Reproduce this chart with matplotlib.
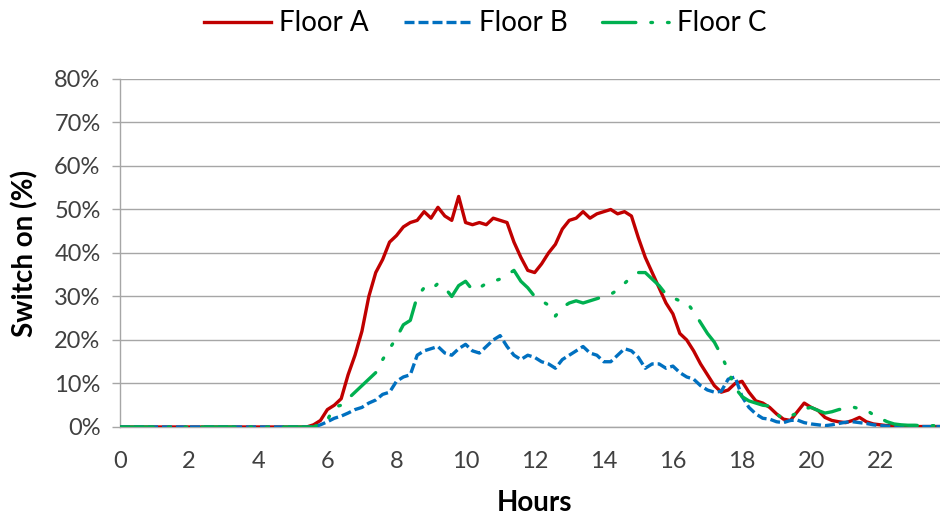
import numpy as np
import matplotlib
matplotlib.use("Agg")
import matplotlib.pyplot as plt

plt.rcParams['font.family'] = ['Lato', 'DejaVu Sans']

STEP = 0.2  # hours between samples

floor_a = [0]*28 + [
    0.5, 1.5, 4.0, 5.0, 6.5, 12, 16.5, 22, 30, 35.5,
    38.5, 42.5, 44, 46, 47, 47.5, 49.5, 48, 50.5, 48.5,
    47.5, 53, 47, 46.5, 47, 46.5, 48, 47.5, 47, 42.5,
    39, 36, 35.5, 37.5, 40, 42, 45.5, 47.5, 48, 49.5,
    48, 49, 49.5, 50, 49, 49.5, 48.5, 43.5, 39, 35.5,
    32, 28.5, 26, 21.5, 20, 17.5, 14.5, 12, 9.5, 8,
    8.5, 10, 10.5, 8, 6, 5.5, 4.5, 3, 1.8, 1.5,
    3.5, 5.5, 4.5, 3.8, 2.2, 1.5, 1.2, 1.0, 1.5, 2.2,
    1.2, 0.7, 0.5, 0.3, 0.3, 0.2, 0.2, 0.1, 0.1, 0.1,
    0.1, 0.1]

floor_b = [0]*29 + [
    0.5, 1.2, 2, 2.5, 3.2, 4, 4.5, 5.5, 6.2, 7.5,
    8, 10.5, 11.5, 12, 16.5, 17.5, 18, 18.5, 17, 16.5,
    18, 19, 17.5, 17, 18.5, 20, 21, 18.5, 16.5, 15.5,
    16.5, 16, 15, 14.5, 13.5, 15.5, 16.5, 17.5, 18.5, 17,
    16.5, 15, 15, 16.5, 18, 17.5, 16, 13.5, 14.5, 14.5,
    13.5, 14, 12.5, 11.5, 11, 9.5, 8.5, 8, 8.2, 11,
    11.5, 7, 4.5, 3, 2, 1.8, 1.2, 1.0, 1.5, 1.6,
    1.0, 0.7, 0.5, 0.3, 0.5, 0.8, 1.1, 1.2, 1.0, 0.8,
    0.5, 0.3, 0.2, 0.1, 0.1, 0.1, 0.1, 0.1, 0.1, 0.1,
    0.1]

floor_c = [0]*29 + [
    0.8, 1.6, 4.6, 5, 6.5, 8, 9.5, 11, 12.5, 15.5,
    18, 20.5, 23.5, 24.5, 30, 32, 31.5, 33, 32, 30,
    32.5, 33.5, 31.5, 32, 33, 33.5, 34, 35, 36, 33.5,
    32, 30, 29, 28, 25.5, 27.5, 28.5, 29, 28.5, 29,
    29.5, 30, 30.5, 31.5, 33, 34.5, 35.5, 35.5, 34, 32.5,
    30.5, 29.7, 29, 28.7, 26.5, 24, 21.5, 19.5, 16.5, 13,
    9, 7, 6, 5.5, 5, 4.8, 3, 1.8, 2.5, 3.2,
    4.2, 4.5, 3.8, 3.2, 3.5, 4.0, 4.3, 4.6, 4.2, 3.9,
    2.8, 2.0, 1.2, 0.7, 0.5, 0.4, 0.4, 0.3, 0.3, 0.3,
    0.3]

series_names = ["Floor A", "Floor B", "Floor C"]
y_ticks = [0, 10, 20, 30, 40, 50, 60, 70, 80]
x_ticks = [0, 2, 4, 6, 8, 10, 12, 14, 16, 18, 20, 22]

fig = plt.figure(figsize=(9.4, 5.19), dpi=100)
ax = fig.add_axes([0.1277, 0.1773, 0.8723, 0.6705])

def hrs(s):
    return np.arange(len(s)) * STEP

ax.plot(hrs(floor_a), floor_a, color="#C00000", lw=2.4, label=series_names[0],
        solid_joinstyle="round", zorder=3)
ax.plot(hrs(floor_b), floor_b, color="#0070C0", lw=2.4, label=series_names[1],
        dashes=(3.0, 1.2), zorder=4)
ax.plot(hrs(floor_c), floor_c, color="#00B050", lw=2.4, label=series_names[2],
        dashes=(10, 4.5, 0.5, 4.5, 0.5, 4.5), dash_capstyle="round", zorder=5)

ax.set_xlim(0, 23.73)
ax.set_ylim(0, 80)
ax.set_yticks(y_ticks)
ax.set_yticklabels([f"{v}%" for v in y_ticks])
ax.set_xticks(x_ticks)
ax.set_xticklabels([str(v) for v in x_ticks])

ax.yaxis.grid(True, color="#A6A6A6", lw=1.0)
ax.set_axisbelow(True)
for s in ["top", "right"]:
    ax.spines[s].set_visible(False)
for s in ["left", "bottom"]:
    ax.spines[s].set_color("#A6A6A6")
    ax.spines[s].set_linewidth(1.0)

ax.tick_params(axis="y", length=6, width=1, color="#A6A6A6", pad=8,
               labelsize=17, labelcolor="#404040")
ax.tick_params(axis="x", length=0, pad=17, labelsize=17, labelcolor="#404040")

ax.set_xlabel("Hours", fontsize=20, fontweight="bold")
ax.xaxis.set_label_coords(0.505, -0.18)
ax.set_ylabel("Switch on (%)", fontsize=20, fontweight="bold")
ax.yaxis.set_label_coords(-0.1, 0.5)

fig.legend(loc="center", bbox_to_anchor=(0.5165, 0.955), ncol=3, frameon=False,
           fontsize=20, handlelength=2.4, columnspacing=1.25, handletextpad=0.3)

fig.savefig("out.png", dpi=100)
